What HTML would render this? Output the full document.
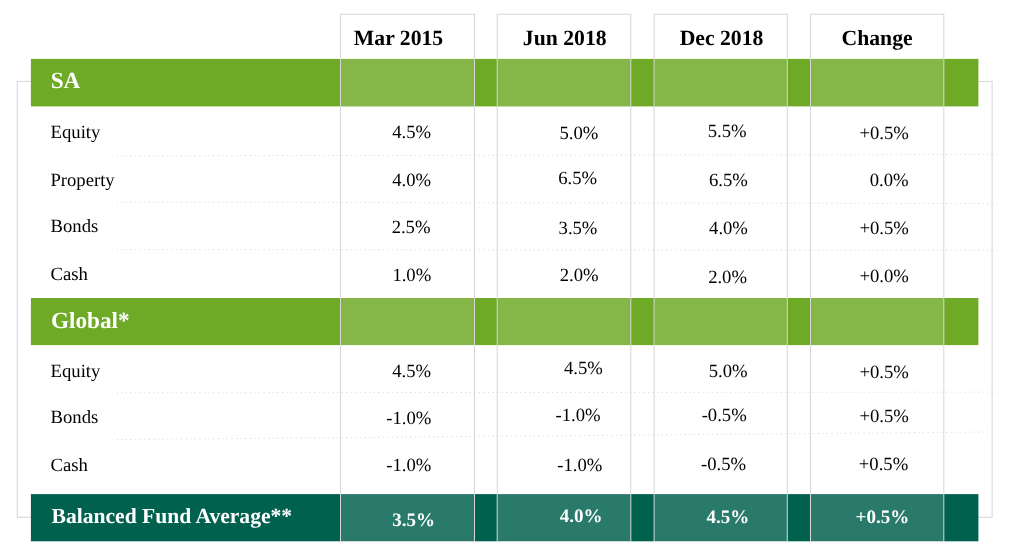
<!DOCTYPE html><html><head><meta charset="utf-8"><title>Table</title><style>
html,body{margin:0;padding:0;background:#fff;overflow:hidden;}svg{display:block}
text{font-family:"Liberation Serif",serif;text-rendering:geometricPrecision;}
.h{font-weight:bold;font-size:21.7px;fill:#000}.w{font-weight:bold;font-size:21.58px;fill:#fff}.g{font-weight:bold;font-size:23.2px;fill:#fff}
.r{font-size:18.67px;fill:#000}.b{font-weight:bold;font-size:19px;fill:#fff}
</style></head><body>
<svg width="1013" height="558" viewBox="0 0 1013 558">
<rect x="17.3" y="81.4" width="974.8" height="435.9" fill="none" stroke="#d6d6d6" stroke-width="1"/>
<line x1="116.9" y1="155.8" x2="998" y2="154.5" stroke="#dadada" stroke-width="1" stroke-dasharray="1.2 3.38"/>
<line x1="116.9" y1="202.2" x2="998" y2="203.6" stroke="#dadada" stroke-width="1" stroke-dasharray="1.2 3.38"/>
<line x1="116.9" y1="249.6" x2="998" y2="250.2" stroke="#dadada" stroke-width="1" stroke-dasharray="1.2 3.38"/>
<line x1="116.9" y1="392.8" x2="998" y2="392.1" stroke="#dadada" stroke-width="1" stroke-dasharray="1.2 3.38"/>
<line x1="116.9" y1="439.6" x2="989.5" y2="432.0" stroke="#dadada" stroke-width="1" stroke-dasharray="1.2 3.38"/>
<rect x="30.9" y="58.9" width="947.5" height="47.5" fill="#6eaa25"/>
<rect x="30.9" y="298" width="947.5" height="47.1" fill="#6eaa25"/>
<rect x="30.9" y="494.1" width="947.5" height="47.2" fill="#00614f"/>
<rect x="340.5" y="58.9" width="134.0" height="47.5" fill="#fff" fill-opacity="0.16"/>
<rect x="340.5" y="298" width="134.0" height="47.1" fill="#fff" fill-opacity="0.16"/>
<rect x="340.5" y="494.1" width="134.0" height="47.2" fill="#fff" fill-opacity="0.16"/>
<rect x="340.5" y="14.2" width="134.0" height="527.4" fill="none" stroke="#d6d6d6" stroke-width="1"/>
<rect x="497.2" y="58.9" width="133.59999999999997" height="47.5" fill="#fff" fill-opacity="0.16"/>
<rect x="497.2" y="298" width="133.59999999999997" height="47.1" fill="#fff" fill-opacity="0.16"/>
<rect x="497.2" y="494.1" width="133.59999999999997" height="47.2" fill="#fff" fill-opacity="0.16"/>
<rect x="497.2" y="14.2" width="133.59999999999997" height="527.4" fill="none" stroke="#d6d6d6" stroke-width="1"/>
<rect x="654.1" y="58.9" width="133.19999999999993" height="47.5" fill="#fff" fill-opacity="0.16"/>
<rect x="654.1" y="298" width="133.19999999999993" height="47.1" fill="#fff" fill-opacity="0.16"/>
<rect x="654.1" y="494.1" width="133.19999999999993" height="47.2" fill="#fff" fill-opacity="0.16"/>
<rect x="654.1" y="14.2" width="133.19999999999993" height="527.4" fill="none" stroke="#d6d6d6" stroke-width="1"/>
<rect x="810.5" y="58.9" width="133.29999999999995" height="47.5" fill="#fff" fill-opacity="0.16"/>
<rect x="810.5" y="298" width="133.29999999999995" height="47.1" fill="#fff" fill-opacity="0.16"/>
<rect x="810.5" y="494.1" width="133.29999999999995" height="47.2" fill="#fff" fill-opacity="0.16"/>
<rect x="810.5" y="14.2" width="133.29999999999995" height="527.4" fill="none" stroke="#d6d6d6" stroke-width="1"/>
<text class="h" x="353.85" y="44.70">Mar 2015</text>
<text class="h" x="522.82" y="44.70">Jun 2018</text>
<text class="h" x="679.64" y="44.70">Dec 2018</text>
<text class="h" x="841.51" y="44.70">Change</text>
<text class="g" x="50.65" y="87.90">SA</text>
<text class="g" x="50.93" y="327.70">Global*</text>
<text class="w" x="51.52" y="522.80">Balanced Fund Average**</text>
<text class="r" x="50.59" y="138.30">Equity</text>
<text class="r" x="50.44" y="186.30">Property</text>
<text class="r" x="50.59" y="232.20">Bonds</text>
<text class="r" x="50.60" y="280.40">Cash</text>
<text class="r" x="50.59" y="377.30">Equity</text>
<text class="r" x="50.59" y="423.40">Bonds</text>
<text class="r" x="50.60" y="470.50">Cash</text>
<text class="r" x="392.16" y="137.80">4.5%</text>
<text class="r" x="392.16" y="185.70">4.0%</text>
<text class="r" x="391.63" y="232.60">2.5%</text>
<text class="r" x="392.38" y="280.80">1.0%</text>
<text class="r" x="392.16" y="376.50">4.5%</text>
<text class="r" x="386.20" y="423.60">-1.0%</text>
<text class="r" x="386.20" y="470.60">-1.0%</text>
<text class="b" x="392.26" y="525.60">3.5%</text>
<text class="r" x="559.46" y="138.80">5.0%</text>
<text class="r" x="558.15" y="184.00">6.5%</text>
<text class="r" x="558.55" y="233.70">3.5%</text>
<text class="r" x="559.75" y="280.80">2.0%</text>
<text class="r" x="563.94" y="373.70">4.5%</text>
<text class="r" x="555.54" y="421.40">-1.0%</text>
<text class="r" x="557.28" y="470.60">-1.0%</text>
<text class="b" x="559.83" y="522.30">4.0%</text>
<text class="r" x="707.72" y="136.70">5.5%</text>
<text class="r" x="708.90" y="185.50">6.5%</text>
<text class="r" x="709.06" y="233.70">4.0%</text>
<text class="r" x="708.14" y="282.50">2.0%</text>
<text class="r" x="708.69" y="376.50">5.0%</text>
<text class="r" x="701.63" y="421.40">-0.5%</text>
<text class="r" x="701.09" y="470.20">-0.5%</text>
<text class="b" x="706.50" y="523.00">4.5%</text>
<text class="r" x="859.47" y="138.50">+0.5%</text>
<text class="r" x="869.70" y="186.20">0.0%</text>
<text class="r" x="859.47" y="233.60">+0.5%</text>
<text class="r" x="859.47" y="282.00">+0.0%</text>
<text class="r" x="859.47" y="377.80">+0.5%</text>
<text class="r" x="859.47" y="421.60">+0.5%</text>
<text class="r" x="858.85" y="470.20">+0.5%</text>
<text class="b" x="855.59" y="522.90">+0.5%</text>
</svg></body></html>
